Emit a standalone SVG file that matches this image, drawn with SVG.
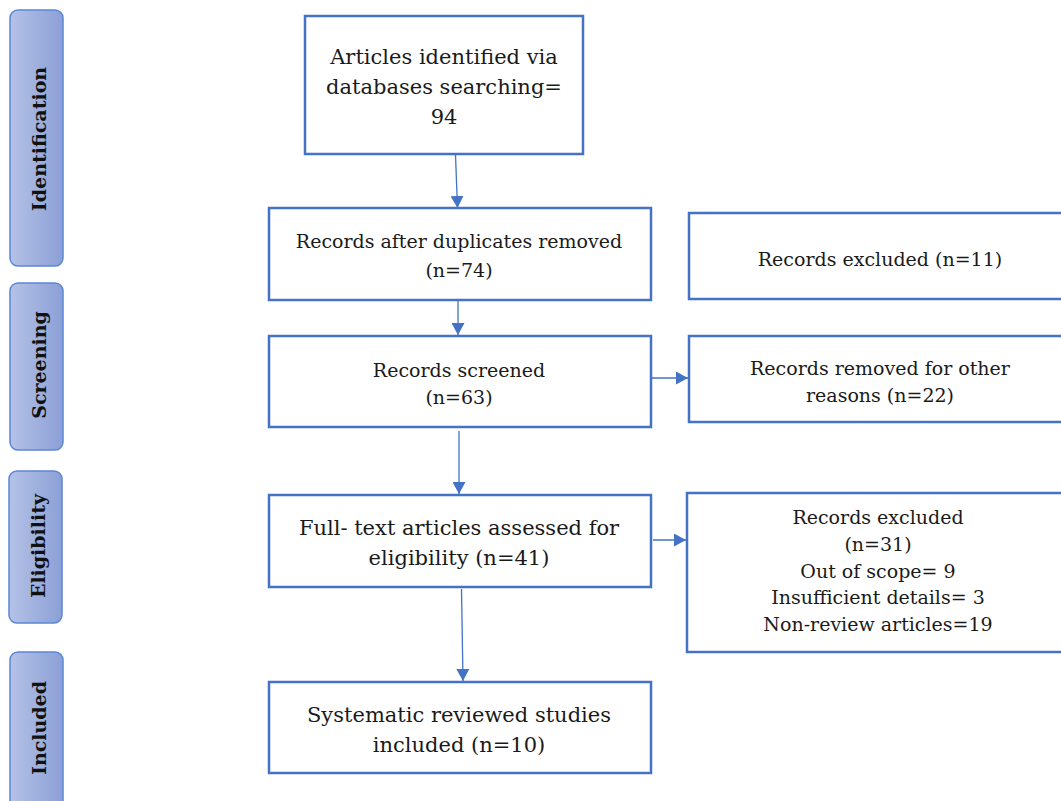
<svg xmlns="http://www.w3.org/2000/svg" width="1061" height="801" viewBox="0 0 1061 801">
<style>
.side{fill:url(#sg);stroke:#5b87d6;stroke-width:1.5}
.box{fill:#fff;stroke:#4472c4;stroke-width:2.5}
.st{font-family:"DejaVu Serif","Liberation Serif",serif;font-weight:bold;font-size:19px;fill:#111;text-anchor:middle}
.t{font-family:"DejaVu Serif","Liberation Serif",serif;fill:#1a1a1a;text-anchor:middle}
.l{font-size:21px}
.s{font-size:19px}
.c{stroke:#4472c4;stroke-width:1.3;fill:none;marker-end:url(#ah)}
</style>
<defs>
<linearGradient id="sg" x1="0" y1="0" x2="1" y2="0">
<stop offset="0" stop-color="#b5c2e7"/>
<stop offset="1" stop-color="#8ba0d6"/>
</linearGradient>
<marker id="ah" viewBox="0 0 12 13" refX="12" refY="6.5" markerWidth="12" markerHeight="13" markerUnits="userSpaceOnUse" orient="auto">
<path d="M0,0 L12,6.5 L0,13 Z" fill="#4472c4"/>
</marker>
</defs>
<rect width="1061" height="801" fill="#fff"/>
<g id="side-identification">
<rect class="side" x="10" y="10" width="53" height="256" rx="8"/>
<text class="st" transform="translate(46,139) rotate(-90)">Identification</text>
</g>
<g id="side-screening">
<rect class="side" x="10" y="283" width="53" height="167" rx="8"/>
<text class="st" transform="translate(46,365) rotate(-90)">Screening</text>
</g>
<g id="side-eligibility">
<rect class="side" x="9" y="471" width="53" height="152" rx="8"/>
<text class="st" transform="translate(45,546) rotate(-90)">Eligibility</text>
</g>
<g id="side-included">
<rect class="side" x="10" y="652" width="53" height="160" rx="8"/>
<text class="st" transform="translate(46,728) rotate(-90)">Included</text>
</g>
<g id="connectors">
<path class="c" d="M455.5,155 L457.5,208"/>
<path class="c" d="M458,301 L458,335"/>
<path class="c" d="M459,431 L459,494"/>
<path class="c" d="M461.5,589 L463,681"/>
<path class="c" d="M652,378 L688,378"/>
<path class="c" d="M653,540 L686,540"/>
</g>
<g id="n-identified">
<rect class="box" x="305" y="16" width="278" height="138"/>
<text class="t l" x="444" y="64">Articles identified via</text>
<text class="t l" x="444" y="94">databases searching=</text>
<text class="t l" x="444" y="124">94</text>
</g>
<g id="n-duplicates">
<rect class="box" x="269" y="208" width="382" height="92"/>
<text class="t s" x="459" y="248">Records after duplicates removed</text>
<text class="t s" x="459" y="277">(n=74)</text>
</g>
<g id="n-excluded11">
<rect class="box" x="689" y="213" width="380" height="86"/>
<text class="t s" x="880" y="266">Records excluded (n=11)</text>
</g>
<g id="n-screened">
<rect class="box" x="269" y="336" width="382" height="91"/>
<text class="t s" x="459" y="377">Records screened</text>
<text class="t s" x="459" y="404">(n=63)</text>
</g>
<g id="n-removed">
<rect class="box" x="689" y="336" width="380" height="86"/>
<text class="t s" x="880" y="375">Records removed for other</text>
<text class="t s" x="880" y="402">reasons (n=22)</text>
</g>
<g id="n-fulltext">
<rect class="box" x="269" y="495" width="382" height="92"/>
<text class="t l" x="459" y="535">Full- text articles assessed for</text>
<text class="t l" x="459" y="565">eligibility (n=41)</text>
</g>
<g id="n-excluded31">
<rect class="box" x="687" y="493" width="382" height="159"/>
<text class="t s" x="878" y="524">Records excluded</text>
<text class="t s" x="878" y="551">(n=31)</text>
<text class="t s" x="878" y="578">Out of scope= 9</text>
<text class="t s" x="878" y="604">Insufficient details= 3</text>
<text class="t s" x="878" y="631">Non-review articles=19</text>
</g>
<g id="n-included">
<rect class="box" x="269" y="682" width="382" height="91"/>
<text class="t l" x="459" y="722">Systematic reviewed studies</text>
<text class="t l" x="459" y="752">included (n=10)</text>
</g>
</svg>
